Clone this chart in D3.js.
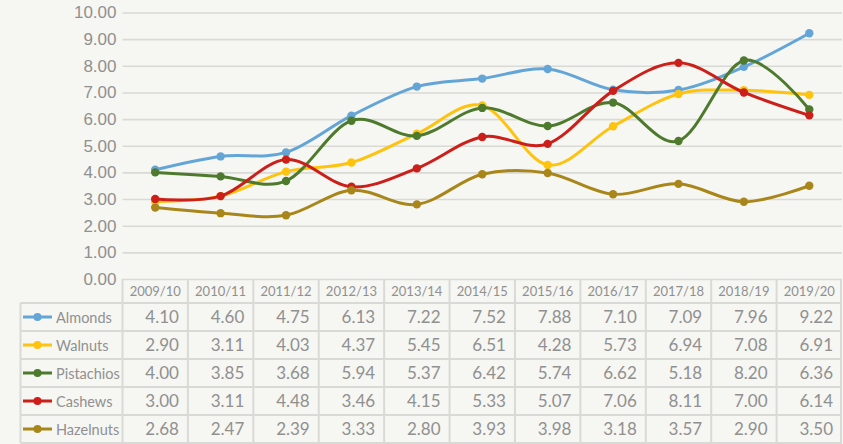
<!DOCTYPE html>
<html>
<head>
<meta charset="utf-8">
<script src="https://cdn.jsdelivr.net/npm/d3@7"></script>
<style>
  html, body { margin: 0; padding: 0; background: #f6f6f2; }
  svg { display: block; font-family: Lato, 'Open Sans', sans-serif; }
</style>
</head>
<body>
<div id="chart"></div>
<script>
const seasons = ['2009/10', '2010/11', '2011/12', '2012/13', '2013/14', '2014/15', '2015/16', '2016/17', '2017/18', '2018/19', '2019/20']
const names = ['Almonds', 'Walnuts', 'Pistachios', 'Cashews', 'Hazelnuts']
const almonds = [4.10, 4.60, 4.75, 6.13, 7.22, 7.52, 7.88, 7.10, 7.09, 7.96, 9.22]
const walnuts = [2.90, 3.11, 4.03, 4.37, 5.45, 6.51, 4.28, 5.73, 6.94, 7.08, 6.91]
const pistachios = [4.00, 3.85, 3.68, 5.94, 5.37, 6.42, 5.74, 6.62, 5.18, 8.20, 6.36]
const cashews = [3.00, 3.11, 4.48, 3.46, 4.15, 5.33, 5.07, 7.06, 8.11, 7.00, 6.14]
const hazelnuts = [2.68, 2.47, 2.39, 3.33, 2.80, 3.93, 3.98, 3.18, 3.57, 2.90, 3.50]
const yTicks = [0, 1, 2, 3, 4, 5, 6, 7, 8, 9, 10]
const colors = ['#64a5d8', '#fdc30f', '#4e7a2d', '#cc1f1a', '#a8861a']

const series = [almonds, walnuts, pistachios, cashews, hazelnuts]
  .map((values, i) => ({ name: names[i], color: colors[i], values }))

const dimensions = {
  width: 843,
  height: 444,
  plotLeft: 122.5,
  plotRight: 842,
  plotTop: 12.5,
  plotBottom: 279,
  labelLeft: 20.5,
  headerBottom: 303,
  rowHeight: 28
}
const GRID = '#d9d9d5'
const TEXT = '#909090'

const svg = d3.select('#chart').append('svg')
  .attr('width', dimensions.width)
  .attr('height', dimensions.height)

const xScale = d3.scaleBand()
  .domain(seasons)
  .range([dimensions.plotLeft, dimensions.plotRight])

const yScale = d3.scaleLinear()
  .domain([0, 10])
  .range([dimensions.plotBottom, dimensions.plotTop])

const rowScale = d3.scaleBand()
  .domain(names)
  .range([dimensions.headerBottom, dimensions.headerBottom + names.length * dimensions.rowHeight])

// y axis + gridlines
const yAxis = svg.append('g')
  .attr('transform', `translate(${dimensions.plotLeft}, 0)`)
  .call(d3.axisLeft(yScale)
    .tickValues(yTicks)
    .tickFormat(d3.format('.2f'))
    .tickSizeInner(-(dimensions.plotRight - dimensions.plotLeft))
    .tickSizeOuter(0)
    .tickPadding(6))
yAxis.select('.domain').remove()
yAxis.selectAll('.tick line')
  .attr('stroke', GRID)
  .attr('stroke-width', 1.6)
yAxis.selectAll('.tick text')
  .attr('fill', TEXT)
  .attr('font-size', 17)

// table grid
const table = svg.append('g')
  .attr('stroke', GRID)
  .attr('stroke-width', 2)
  .attr('fill', 'none')

const tableBottom = rowScale.range()[1]
const rowLines = [dimensions.headerBottom].concat(names.map(n => rowScale(n) + rowScale.bandwidth()))
table.selectAll('line.h')
  .data(rowLines)
  .join('line')
  .attr('class', 'h')
  .attr('x1', dimensions.labelLeft)
  .attr('x2', dimensions.plotRight)
  .attr('y1', d => d)
  .attr('y2', d => d)

const colLines = seasons.map(s => xScale(s)).concat([dimensions.plotRight - 1])
table.selectAll('line.v')
  .data(colLines)
  .join('line')
  .attr('class', 'v')
  .attr('x1', d => d)
  .attr('x2', d => d)
  .attr('y1', dimensions.plotBottom)
  .attr('y2', tableBottom)

table.append('line')
  .attr('x1', dimensions.labelLeft)
  .attr('x2', dimensions.labelLeft)
  .attr('y1', dimensions.headerBottom)
  .attr('y2', tableBottom)

// header labels
svg.append('g')
  .selectAll('text')
  .data(seasons)
  .join('text')
  .attr('x', d => xScale(d) + xScale.bandwidth() / 2)
  .attr('y', (dimensions.plotBottom + dimensions.headerBottom) / 2 + 5)
  .attr('text-anchor', 'middle')
  .attr('fill', TEXT)
  .attr('font-size', 13)
  .text(d => d)

// rows: legend key + values
const rows = svg.append('g')
  .selectAll('g')
  .data(series)
  .join('g')
  .attr('transform', d => `translate(0, ${rowScale(d.name) + rowScale.bandwidth() / 2})`)

rows.append('line')
  .attr('x1', 23)
  .attr('x2', 52)
  .attr('stroke', d => d.color)
  .attr('stroke-width', 3)
rows.append('circle')
  .attr('cx', 37.5)
  .attr('r', 4)
  .attr('fill', d => d.color)
rows.append('text')
  .attr('x', 56)
  .attr('y', 5.5)
  .attr('fill', TEXT)
  .attr('font-size', 14.5)
  .text(d => d.name)

rows.selectAll('text.val')
  .data(d => d.values)
  .join('text')
  .attr('class', 'val')
  .attr('x', (d, i) => xScale(seasons[i]) + xScale.bandwidth() - 9)
  .attr('y', 6)
  .attr('text-anchor', 'end')
  .attr('fill', TEXT)
  .attr('font-size', 17)
  .text(d => d.toFixed(2))

// lines
const line = d3.line()
  .x((d, i) => xScale(seasons[i]) + xScale.bandwidth() / 2)
  .y(d => yScale(d))
  .curve(d3.curveCatmullRom.alpha(0))

const lines = svg.append('g')
  .selectAll('g')
  .data(series)
  .join('g')

lines.append('path')
  .attr('fill', 'none')
  .attr('stroke', d => d.color)
  .attr('stroke-width', 3)
  .attr('stroke-linejoin', 'round')
  .attr('stroke-linecap', 'round')
  .attr('d', d => line(d.values))

lines.selectAll('circle')
  .data(d => d.values.map(v => ({ v, color: d.color })))
  .join('circle')
  .attr('cx', (d, i) => xScale(seasons[i]) + xScale.bandwidth() / 2)
  .attr('cy', d => yScale(d.v))
  .attr('r', 4.2)
  .attr('fill', d => d.color)
</script>
</body>
</html>
